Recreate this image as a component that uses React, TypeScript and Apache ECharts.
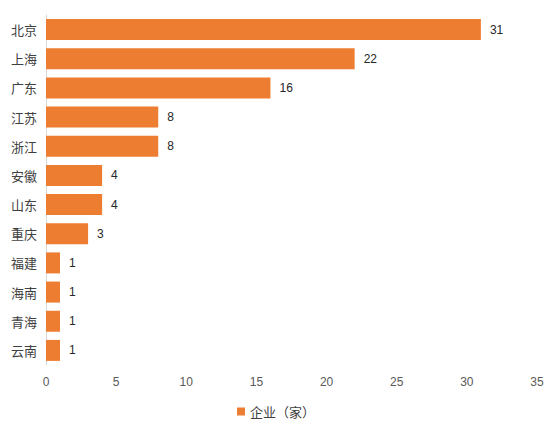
import { useRef, useEffect } from "react";
import * as echarts from "echarts";

const PROVINCES = ["北京", "上海", "广东", "江苏", "浙江", "安徽", "山东", "重庆", "福建", "海南", "青海", "云南"];
const COMPANIES = [31, 22, 16, 8, 8, 4, 4, 3, 1, 1, 1, 1];
const SERIES_NAME = "企业（家）";

const FONT = "'Noto Sans CJK SC', 'Noto Sans', sans-serif";
const NUM_FONT = "'Liberation Sans', Arial, sans-serif";

export default function App() {
  const chartRef = useRef<HTMLDivElement>(null);
  useEffect(() => {
    if (!chartRef.current) return;
    const chart = echarts.init(chartRef.current, undefined, { renderer: "svg" });
    const option: echarts.EChartsOption = {
      animation: false,
      backgroundColor: "#ffffff",
      grid: { left: 46, right: 15, top: 15, bottom: 68 },
      xAxis: {
        type: "value",
        min: 0,
        max: 35,
        interval: 5,
        axisLine: { show: false },
        axisTick: { show: false },
        splitLine: { show: false },
        axisLabel: { color: "#595959", fontSize: 12, fontFamily: NUM_FONT, margin: 11 },
      },
      yAxis: {
        type: "category",
        data: PROVINCES,
        inverse: true,
        axisLine: { show: true, lineStyle: { color: "#d9d9d9" } },
        axisTick: { show: false },
        axisLabel: { color: "#404040", fontSize: 13, fontFamily: FONT, margin: 9 },
      },
      legend: {
        data: [SERIES_NAME],
        bottom: 10,
        left: "center",
        itemWidth: 8,
        itemHeight: 8,
        icon: "rect",
        itemGap: 6,
        textStyle: { color: "#404040", fontSize: 13, fontFamily: FONT },
      },
      series: [
        {
          name: SERIES_NAME,
          type: "bar",
          data: COMPANIES,
          barWidth: 21,
          itemStyle: { color: "#ED7D31" },
          label: {
            show: true,
            position: "right",
            distance: 9,
            color: "#262626",
            fontSize: 12,
            fontFamily: NUM_FONT,
          },
        },
      ],
    };
    chart.setOption(option);
    return () => chart.dispose();
  }, []);
  return (
    <div
      ref={chartRef}
      style={{ position: "absolute", left: 0, top: 0, width: 552, height: 433 }}
    />
  );
}
